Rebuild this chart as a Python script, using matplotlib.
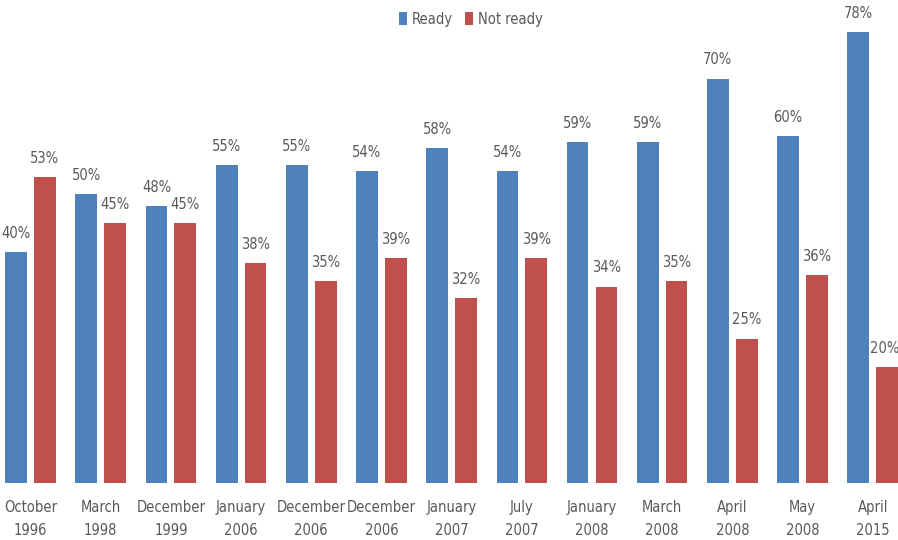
import matplotlib
matplotlib.use("Agg")
import matplotlib.pyplot as plt
import numpy as np

categories = ["October\n1996", "March\n1998", "December\n1999", "January\n2006",
              "December\n2006", "December\n2006", "January\n2007", "July\n2007",
              "January\n2008", "March\n2008", "April\n2008", "May\n2008", "April\n2015"]
ready = [40, 50, 48, 55, 55, 54, 58, 54, 59, 59, 70, 60, 78]
not_ready = [53, 45, 45, 38, 35, 39, 32, 39, 34, 35, 25, 36, 20]

plt.rcParams['font.family'] = ['DejaVu Sans']
plt.rcParams['font.stretch'] = 'condensed'
text_color = "#595959"
blue = "#4F81BD"
red = "#C0504D"
fs = 10.5

fig = plt.figure(figsize=(8.98, 5.4), dpi=100)
ax = fig.add_axes([0, 57/540, 1, 483/540])

x = np.arange(len(categories))
w = 0.31
off = 0.205
b1 = ax.bar(x - off, ready, w, color=blue, label="Ready")
b2 = ax.bar(x + off, not_ready, w, color=red, label="Not ready")

n = len(categories)
for bars, vals in ((b1, ready), (b2, not_ready)):
    for i, (r, v) in enumerate(zip(bars, vals)):
        dx = -2 if (bars is b2 and i == n - 1) else 0
        ax.annotate(f"{v}%", (r.get_x() + r.get_width()/2, v), xytext=(dx, 8),
                    textcoords="offset points", ha="center", va="bottom",
                    fontsize=fs, color=text_color)

ax.set_xlim(-0.435, 12.36)
ax.set_ylim(0, 83.6)
ax.set_xticks(x)
ax.set_xticklabels(categories, fontsize=fs, color=text_color, linespacing=1.7)
ax.tick_params(axis='x', length=0, pad=12)
ax.set_yticks([])
for s in ax.spines.values():
    s.set_visible(False)
ax.patch.set_alpha(0)

fig.legend(handles=[b1, b2], labels=["Ready", "Not ready"], loc="upper center",
           bbox_to_anchor=(0.524, 1.003), ncol=2, frameon=False, fontsize=fs,
           handlelength=0.6, handleheight=0.9, handletextpad=0.3, columnspacing=0.8,
           labelcolor=text_color)

fig.savefig("out.png", dpi=100)
